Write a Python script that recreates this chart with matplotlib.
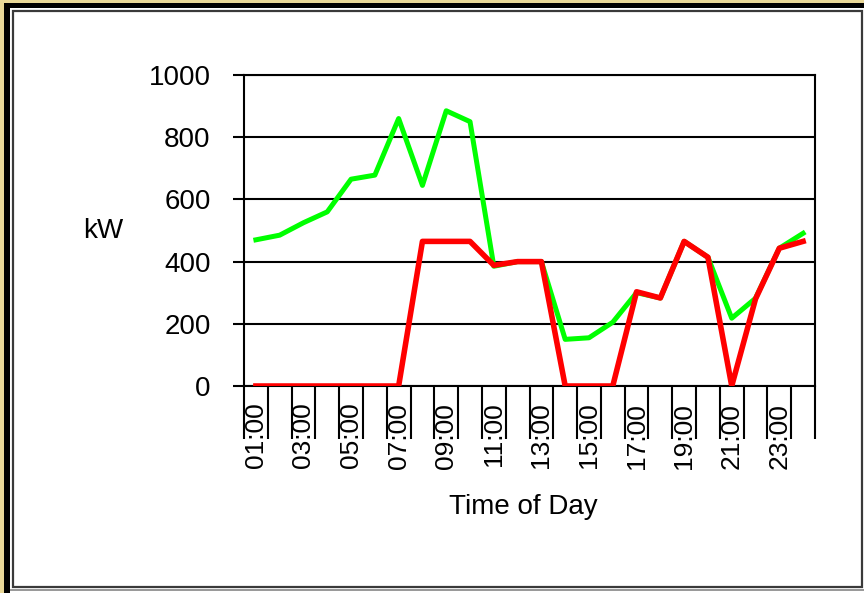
import matplotlib
matplotlib.use('Agg')
import matplotlib.pyplot as plt
from matplotlib.patches import Rectangle

plt.rcParams['font.family'] = ['Liberation Sans', 'DejaVu Sans']

hours = ['%02d:00' % h for h in range(1, 25)]
total_kw = [470, 485, 525, 560, 665, 678, 860, 645, 885, 850, 385, 400,
            400, 150, 155, 205, 300, 283, 465, 414, 218, 282, 443, 491]
shaved_kw = [0, 0, 0, 0, 0, 0, 0, 465, 465, 465, 388, 400,
             400, 0, 0, 0, 303, 283, 465, 414, 0, 280, 443, 465]
y_ticks = [0, 200, 400, 600, 800, 1000]

W, H = 864, 593
fig = plt.figure(figsize=(W / 100, H / 100), dpi=100)
fig.patch.set_facecolor('white')


def px_rect(x0, y0, x1, y1, **kw):
    # rectangle given in pixel coords (top-left origin)
    return Rectangle((x0 / W, 1 - y1 / H), (x1 - x0) / W, (y1 - y0) / H,
                     transform=fig.transFigure, zorder=-5, **kw)


# window-like frame
fig.patches.append(px_rect(0, 0, W, H, facecolor='#e9d898', edgecolor='none'))
fig.patches.append(px_rect(4, 3, W, H, facecolor='#000000', edgecolor='none'))
fig.patches.append(px_rect(10, 8, W, H, facecolor='white', edgecolor='none'))
fig.patches.append(px_rect(13, 11, 862, 587, facecolor='none',
                           edgecolor='#3a3a3a', linewidth=1.6))
fig.patches.append(px_rect(10, 589, W, 591, facecolor='#9a9a9a', edgecolor='none'))

ax = fig.add_axes([244 / W, 1 - 386 / H, (815 - 244) / W, (386 - 75) / H])
ax.set_facecolor('white')
x = list(range(len(hours)))
ax.plot(x, total_kw, color='#00ff00', linewidth=3.6, zorder=3)
ax.plot(x, shaved_kw, color='#ff0000', linewidth=4.0, zorder=4)

ax.set_xlim(-0.5, len(hours) - 0.5)
ax.set_ylim(0, 1000)
ax.set_yticks(y_ticks)
ax.grid(axis='y', color='black', linewidth=1.5)
ax.set_axisbelow(True)
for s in ax.spines.values():
    s.set_color('black')
    s.set_linewidth(1.5)

ax.set_xticks(x)
ax.set_xticklabels([h if i % 2 == 0 else '' for i, h in enumerate(hours)],
                   rotation=90, fontsize=19)
ax.set_xticks([i - 0.5 for i in range(len(hours) + 1)], minor=True)
ax.tick_params(axis='x', which='major', length=0, pad=12)
ax.tick_params(axis='x', which='minor', length=38, width=1.5, color='black')
ax.tick_params(axis='y', length=8, width=1.5, pad=16, labelsize=20)

ax.set_ylabel('kW', rotation=0, fontsize=20, ha='right', va='center')
ax.yaxis.set_label_coords(-(244 - 123) / (815 - 244), 0.5)
fig.text(523 / W, 1 - 507 / H, 'Time of Day', fontsize=20,
         ha='center', va='center')

fig.savefig('out.png', dpi=100, facecolor=fig.get_facecolor())
